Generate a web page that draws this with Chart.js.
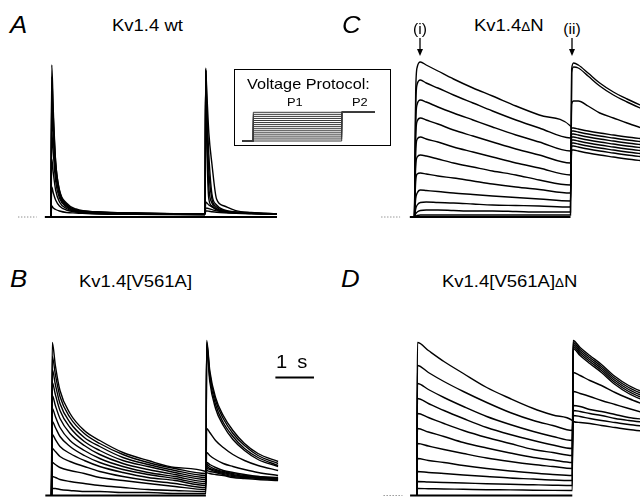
<!DOCTYPE html>
<html>
<head>
<meta charset="utf-8">
<script src="https://cdn.jsdelivr.net/npm/chart.js@4.4.1/dist/chart.umd.min.js"></script>
<style>
  html, body { margin: 0; padding: 0; background: #fff; }
  #page { position: relative; width: 640px; height: 497px; overflow: hidden; background: #fff; }
  canvas { position: absolute; }
  .t { position: absolute; font-family: 'Liberation Sans', Arial, Helvetica, sans-serif; line-height: 1; white-space: nowrap; color: #000; transform: scaleX(1.12); transform-origin: 0 0; }
  .letter { font-size: 23px; font-style: italic; }
  .title { font-size: 16.5px; }
  .delta { font-size: 12px; }
  .mid { transform-origin: 50% 0; text-align: center; }
  #protoBox { position: absolute; left: 234px; top: 69px; width: 155px; height: 75px; border: 1.5px solid #000; background: #fff; }
  svg { position: absolute; left: 0; top: 0; }
</style>
</head>
<body>
<div id="page">
  <canvas id="chartA"></canvas>
  <canvas id="chartC"></canvas>
  <canvas id="chartB"></canvas>
  <canvas id="chartD"></canvas>
  <div id="protoBox"></div>
  <canvas id="chartProto"></canvas>

  <div class="t letter" style="left:10px;top:13.5px">A</div>
  <div class="t letter" style="left:342px;top:13.5px">C</div>
  <div class="t letter" style="left:10px;top:267.5px">B</div>
  <div class="t letter" style="left:341px;top:267.5px">D</div>

  <div class="t title" style="left:112px;top:17px">Kv1.4 wt</div>
  <div class="t title" style="left:474px;top:17px">Kv1.4<span class="delta">Δ</span>N</div>
  <div class="t title" style="left:79px;top:273px">Kv1.4[V561A]</div>
  <div class="t title" style="left:442px;top:273px">Kv1.4[V561A]<span class="delta">Δ</span>N</div>

  <div class="t mid" style="left:400px;width:40px;top:22px;font-size:14px">(i)</div>
  <div class="t mid" style="left:552px;width:40px;top:22px;font-size:14px">(ii)</div>

  <div class="t" style="left:247px;top:77px;font-size:14.5px">Voltage Protocol:</div>
  <div class="t" style="left:286.5px;top:97px;font-size:11.5px">P1</div>
  <div class="t" style="left:351.5px;top:97px;font-size:11.5px">P2</div>

  <div class="t" style="left:276px;top:353px;font-size:18px;word-spacing:4px">1 s</div>

  <svg width="640" height="497">
    <line x1="420" y1="38" x2="420" y2="50" stroke="#000" stroke-width="1.3"/>
    <polygon points="417,49 423,49 420,56" fill="#000"/>
    <line x1="572" y1="38" x2="572" y2="50" stroke="#000" stroke-width="1.3"/>
    <polygon points="569,49 575,49 572,56" fill="#000"/>
  </svg>
</div>

<script>
// ---- Panel A: Kv1.4 wt (current, arbitrary units; time in s) ----
const timeA_P1 = [0, 0.02, 0.06, 0.12, 0.22, 0.4, 0.65, 1.2, 2.2, 4.0];
const currA_P1 = [
  [0, 15.2, 10.6, 5.6, 2.7, 1.4, 0.8, 0.5, 0.4, 0.3],
  [0, 14.0, 10.0, 5.5, 2.6, 1.3, 0.7, 0.5, 0.4, 0.3],
  [0, 12.5, 9.1, 5.0, 2.4, 1.2, 0.7, 0.5, 0.35, 0.3],
  [0, 10.6, 7.9, 4.4, 2.2, 1.1, 0.65, 0.45, 0.35, 0.3],
  [0, 8.4, 6.4, 3.6, 1.9, 1.0, 0.6, 0.45, 0.35, 0.3],
  [0, 5.8, 4.4, 2.7, 1.5, 0.85, 0.55, 0.4, 0.3, 0.25],
  [0, 3.0, 2.4, 1.7, 1.1, 0.7, 0.5, 0.35, 0.3, 0.25],
  [0, 1.1, 0.9, 0.75, 0.6, 0.45, 0.4, 0.3, 0.27, 0.23]
];
const timeA_P2 = [4.02, 4.05, 4.1, 4.18, 4.3, 4.5, 4.8, 5.2, 5.87];
const currA_P2 = [
  [0.6, 0.6, 0.58, 0.53, 0.47, 0.41, 0.36, 0.32, 0.27],
  [0.9, 0.88, 0.84, 0.73, 0.61, 0.5, 0.41, 0.35, 0.29],
  [1.5, 1.4, 1.2, 1.0, 0.76, 0.58, 0.46, 0.38, 0.3],
  [14.6, 12.2, 8.4, 5.3, 1.8, 1.1, 0.64, 0.46, 0.33],
  [14.6, 9.4, 4.6, 1.8, 1.0, 0.64, 0.47, 0.38, 0.32],
  [14.7, 8.4, 3.0, 1.4, 0.84, 0.58, 0.46, 0.38, 0.3],
  [14.7, 10.9, 6.2, 2.3, 1.2, 0.7, 0.5, 0.4, 0.32],
  [14.9, 6.8, 1.8, 1.1, 0.7, 0.5, 0.4, 0.36, 0.3]
];

// ---- Panel B: Kv1.4[V561A] ----
const timeB_P1 = [0, 0.02, 0.1, 0.22, 0.48, 0.85, 1.25, 1.85, 2.5, 3.2, 4.0];
const currB_P1 = [
  [0, 15.3, 13.0, 10.5, 8.2, 6.5, 5.5, 4.3, 3.5, 2.8, 2.4],
  [0, 13.9, 12.1, 9.9, 7.8, 6.2, 5.2, 4.1, 3.3, 2.7, 2.2],
  [0, 12.6, 11.1, 9.2, 7.3, 5.8, 4.9, 3.8, 3.1, 2.5, 2.0],
  [0, 11.3, 10.1, 8.5, 6.8, 5.4, 4.5, 3.5, 2.9, 2.3, 1.8],
  [0, 10.0, 9.0, 7.7, 6.2, 5.0, 4.1, 3.2, 2.6, 2.1, 1.6],
  [0, 8.7, 7.9, 6.8, 5.5, 4.5, 3.7, 2.9, 2.3, 1.9, 1.4],
  [0, 7.4, 6.8, 5.9, 4.9, 4.0, 3.3, 2.6, 2.1, 1.7, 1.2],
  [0, 6.1, 5.6, 4.9, 4.2, 3.5, 2.9, 2.3, 1.8, 1.5, 1.0],
  [0, 4.7, 4.4, 3.9, 3.4, 2.9, 2.4, 1.9, 1.5, 1.2, 0.8],
  [0, 3.3, 3.1, 2.8, 2.5, 2.2, 1.8, 1.5, 1.2, 0.9, 0.6],
  [0, 1.9, 1.8, 1.6, 1.4, 1.2, 1.0, 0.8, 0.6, 0.5, 0.4],
  [0, 0.7, 0.7, 0.6, 0.5, 0.4, 0.4, 0.3, 0.3, 0.2, 0.2]
];
const timeB_P2 = [4.02, 4.1, 4.25, 4.45, 4.7, 5.0, 5.35, 5.87];
const currB_P2 = [
  [2.3, 2.2, 2.1, 2.0, 1.8, 1.7, 1.6, 1.5],
  [2.5, 2.4, 2.3, 2.1, 1.9, 1.8, 1.7, 1.6],
  [2.7, 2.6, 2.4, 2.2, 2.0, 1.9, 1.8, 1.6],
  [2.9, 2.7, 2.5, 2.3, 2.1, 1.9, 1.8, 1.7],
  [3.1, 2.9, 2.6, 2.4, 2.2, 2.0, 1.9, 1.7],
  [3.3, 3.1, 2.8, 2.5, 2.3, 2.1, 1.9, 1.8],
  [4.3, 4.0, 3.6, 3.2, 2.9, 2.6, 2.3, 2.0],
  [6.7, 6.3, 5.5, 4.8, 4.1, 3.5, 3.0, 2.5],
  [14.9, 11.4, 8.7, 7.0, 5.6, 4.5, 3.6, 2.9],
  [15.1, 11.8, 9.1, 7.3, 5.9, 4.7, 3.8, 3.0],
  [15.3, 12.2, 9.5, 7.7, 6.2, 5.0, 4.0, 3.2],
  [15.5, 12.5, 9.8, 8.0, 6.5, 5.2, 4.2, 3.4]
];

// ---- Panel C: Kv1.4ΔN ----
const timeC_P1 = [0, 0.03, 0.07, 0.15, 0.3, 0.6, 1.0, 1.5, 2.0, 2.6, 3.2, 4.0];
const currC_P1 = [
  [0, 12.4, 15.0, 15.5, 15.2, 14.6, 13.8, 12.9, 12.1, 11.1, 10.2, 9.1],
  [0, 11.0, 13.3, 13.7, 13.4, 12.9, 12.2, 11.4, 10.6, 9.7, 8.9, 7.9],
  [0, 9.4, 11.3, 11.7, 11.5, 11.0, 10.4, 9.7, 9.0, 8.2, 7.5, 6.6],
  [0, 7.9, 9.6, 9.9, 9.7, 9.3, 8.7, 8.1, 7.5, 6.8, 6.2, 5.4],
  [0, 6.4, 7.8, 8.0, 7.8, 7.5, 7.0, 6.5, 6.0, 5.4, 4.9, 4.2],
  [0, 5.0, 6.0, 6.2, 6.1, 5.8, 5.4, 5.0, 4.6, 4.2, 3.7, 3.2],
  [0, 3.5, 4.3, 4.4, 4.3, 4.1, 3.9, 3.6, 3.3, 3.0, 2.75, 2.4],
  [0, 1.8, 2.4, 2.7, 2.65, 2.55, 2.4, 2.25, 2.1, 1.95, 1.8, 1.6],
  [0, 0.8, 1.2, 1.45, 1.5, 1.45, 1.4, 1.3, 1.2, 1.15, 1.1, 1.0],
  [0, 0.3, 0.5, 0.65, 0.7, 0.7, 0.65, 0.6, 0.6, 0.55, 0.5, 0.5],
  [0, 0.1, 0.15, 0.2, 0.2, 0.2, 0.2, 0.2, 0.2, 0.2, 0.2, 0.2]
];
const timeC_P2 = [4.03, 4.08, 4.2, 4.45, 4.75, 5.1, 5.45, 5.9];
const currC_P2 = [
  [8.9, 8.9, 8.8, 8.6, 8.4, 8.2, 8.0, 7.8],
  [8.6, 8.6, 8.5, 8.3, 8.1, 7.9, 7.7, 7.5],
  [8.3, 8.3, 8.2, 8.0, 7.8, 7.6, 7.4, 7.2],
  [8.0, 8.0, 7.9, 7.7, 7.5, 7.3, 7.1, 6.9],
  [7.7, 7.7, 7.6, 7.4, 7.2, 7.0, 6.8, 6.6],
  [7.4, 7.4, 7.3, 7.1, 6.9, 6.7, 6.5, 6.3],
  [7.1, 7.1, 7.0, 6.8, 6.6, 6.4, 6.2, 6.0],
  [6.7, 6.7, 6.6, 6.4, 6.2, 6.0, 5.8, 5.6],
  [11.3, 11.6, 11.6, 11.1, 10.4, 9.9, 9.4, 8.8],
  [14.4, 15.0, 14.9, 14.1, 13.1, 12.2, 11.5, 10.7],
  [14.8, 15.4, 15.2, 14.4, 13.4, 12.5, 11.8, 11.0]
];

// ---- Panel D: Kv1.4[V561A]ΔN ----
const timeD_P1 = [0, 0.02, 0.3, 0.7, 1.2, 1.8, 2.4, 3.0, 3.5, 4.0];
const currD_P1 = [
  [0, 15.3, 14.5, 13.4, 12.2, 10.8, 9.7, 8.7, 8.05, 7.5],
  [0, 13.0, 12.3, 11.4, 10.4, 9.3, 8.3, 7.5, 7.0, 6.5],
  [0, 11.2, 10.6, 9.8, 8.9, 7.9, 7.1, 6.4, 5.9, 5.5],
  [0, 9.7, 9.2, 8.5, 7.7, 6.8, 6.1, 5.5, 5.05, 4.7],
  [0, 8.2, 7.8, 7.2, 6.5, 5.8, 5.2, 4.6, 4.3, 4.0],
  [0, 6.7, 6.35, 5.9, 5.3, 4.75, 4.25, 3.8, 3.55, 3.3],
  [0, 5.2, 4.95, 4.6, 4.2, 3.75, 3.4, 3.1, 2.9, 2.7],
  [0, 3.7, 3.5, 3.3, 3.0, 2.7, 2.45, 2.25, 2.1, 2.0],
  [0, 2.4, 2.3, 2.2, 2.05, 1.9, 1.75, 1.65, 1.55, 1.5],
  [0, 1.4, 1.35, 1.3, 1.25, 1.18, 1.12, 1.07, 1.03, 1.0],
  [0, 0.7, 0.68, 0.65, 0.62, 0.58, 0.56, 0.53, 0.51, 0.5]
];
const timeD_P2 = [4.02, 4.2, 4.45, 4.75, 5.1, 5.45, 5.9];
const currD_P2 = [
  [7.4, 7.3, 7.2, 7.0, 6.8, 6.6, 6.4],
  [8.0, 7.9, 7.7, 7.5, 7.3, 7.1, 6.9],
  [8.5, 8.4, 8.2, 8.0, 7.7, 7.5, 7.3],
  [9.0, 8.9, 8.6, 8.4, 8.1, 7.8, 7.6],
  [10.4, 10.2, 9.9, 9.5, 9.1, 8.7, 8.2],
  [12.3, 12.0, 11.5, 11.0, 10.3, 9.7, 9.0],
  [14.7, 14.0, 13.2, 12.3, 11.1, 10.2, 9.4],
  [14.9, 14.2, 13.4, 12.5, 11.3, 10.4, 9.6],
  [15.1, 14.4, 13.6, 12.7, 11.5, 10.6, 9.8],
  [15.3, 14.6, 13.8, 12.9, 11.7, 10.8, 10.0],
  [15.5, 14.8, 14.0, 13.1, 11.9, 11.0, 10.2]
];

// zero-current marker, baselines and the 1 s scale bar (time in s)
const zeroMark = [-0.85, -0.37];
const baseA = [-0.16, 5.87];
const baseB = [-0.16, 4.0];
const baseC = [-0.12, 4.0];
const baseD = [-0.17, 4.0];
const scaleBarTime = [5.8, 6.8];
const scaleBarLevel = 11.8;

// ---- Voltage protocol (mV) ----
const protoHoldTime = [-0.5, 0];
const protoP1End = 4.0;
const protoP2End = 5.5;
const holdingMV = -80;
const stepMV = [-80, -70, -60, -50, -40, -30, -20, -10, 0, 10, 20, 30, 40, 50, 60];
const testMV = 60;

//Build one dataset per sweep, P1 followed by P2
function sweeps(t1, rows1, t2, rows2) {
  return rows1.map(function (row, i) {
    let pts = t1.map((t, j) => ({ x: t, y: row[j] }));
    pts = pts.concat(t2.map((t, j) => ({ x: t, y: rows2[i][j] })));
    return { data: pts, borderColor: '#000', borderWidth: 1.4, pointRadius: 0, cubicInterpolationMode: 'monotone' };
  });
}

function flatLine(times, level, width, dash) {
  return {
    data: [{ x: times[0], y: level }, { x: times[1], y: level }],
    borderColor: dash ? '#666' : '#000', borderWidth: width, borderDash: dash || [], pointRadius: 0, tension: 0
  };
}

//Place the canvas and give the scales a range so 1 s and 1 unit land on the right pixels
function drawPanel(id, box, x0, pxPerSec, y0, pxPerUnit, datasets) {
  const el = document.getElementById(id);
  el.width = box.w;
  el.height = box.h;
  el.style.left = box.l + 'px';
  el.style.top = box.t + 'px';
  return new Chart(el, {
    type: 'line',
    data: { datasets: datasets },
    options: {
      responsive: false,
      animation: false,
      devicePixelRatio: 1,
      events: [],
      layout: { padding: 0 },
      plugins: { legend: { display: false }, tooltip: { enabled: false } },
      scales: {
        x: { type: 'linear', display: false, min: (box.l - x0) / pxPerSec, max: (box.l + box.w - x0) / pxPerSec },
        y: { type: 'linear', display: false, min: (y0 - box.t - box.h) / pxPerUnit, max: (y0 - box.t) / pxPerUnit }
      }
    }
  });
}

//Panel A
let dsA = sweeps(timeA_P1, currA_P1, timeA_P2, currA_P2);
dsA.push(flatLine(baseA, 0, 2));
dsA.push(flatLine(zeroMark, 0, 1, [1, 2]));
drawPanel('chartA', { l: 0, t: 45, w: 330, h: 185 }, 51, 38.5, 217, 10, dsA);

//Panel B
let dsB = sweeps(timeB_P1, currB_P1, timeB_P2, currB_P2);
dsB.push(flatLine(baseB, 0, 2));
dsB.push(flatLine(scaleBarTime, scaleBarLevel, 2));
drawPanel('chartB', { l: 0, t: 300, w: 330, h: 197 }, 51.5, 38.6, 495.5, 10, dsB);

//Panel C
let dsC = sweeps(timeC_P1, currC_P1, timeC_P2, currC_P2);
dsC.push(flatLine(baseC, 0, 2));
dsC.push(flatLine(zeroMark, 0, 1, [1, 2]));
drawPanel('chartC', { l: 330, t: 45, w: 310, h: 185 }, 414.5, 39.0, 217, 10, dsC);

//Panel D
let dsD = sweeps(timeD_P1, currD_P1, timeD_P2, currD_P2);
dsD.push(flatLine(baseD, 0, 2));
dsD.push(flatLine(zeroMark, 0, 1, [1, 2]));
drawPanel('chartD', { l: 330, t: 300, w: 310, h: 197 }, 416.7, 38.9, 495.5, 10, dsD);

//Voltage protocol inset
let dsP = stepMV.map(function (v) {
  return {
    data: [
      { x: protoHoldTime[0], y: holdingMV }, { x: protoHoldTime[1], y: holdingMV },
      { x: protoHoldTime[1], y: v }, { x: protoP1End, y: v },
      { x: protoP1End, y: testMV }, { x: protoP2End, y: testMV }
    ],
    borderColor: '#3a3a3a', borderWidth: 1, pointRadius: 0, tension: 0
  };
});
drawPanel('chartProto', { l: 237, t: 100, w: 152, h: 45 }, 253.3, 22.1, 124.6, 0.205, dsP);
</script>
</body>
</html>
